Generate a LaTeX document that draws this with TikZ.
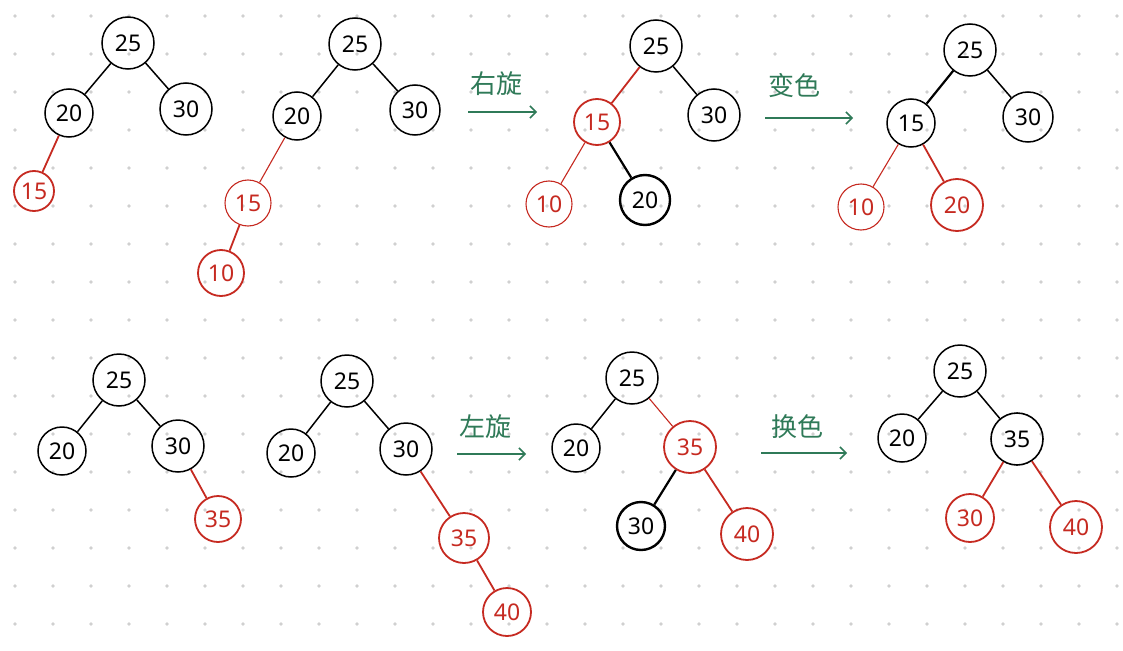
\documentclass[tikz,border=0pt]{standalone}
\usepackage{fontspec}
\setmainfont{Noto Sans}
\newfontfamily\cjk{Noto Sans CJK SC}
\usetikzlibrary{arrows.meta}
\definecolor{rbred}{HTML}{C62A21}
\definecolor{rbgreen}{HTML}{2F7A58}
\definecolor{dotgray}{HTML}{D0D0D0}
\begin{document}
\begin{tikzpicture}[x=1pt,y=-1pt,
  bn/.style={circle,draw=black,line width=1.5pt,inner sep=0pt,font=\fontsize{23}{26}\selectfont},
  rn/.style={circle,draw=rbred,text=rbred,line width=1.8pt,inner sep=0pt,font=\fontsize{23}{26}\selectfont},
  rnthin/.style={rn,line width=1.1pt},
  bnbold/.style={bn,line width=2.4pt,font=\fontsize{23}{26}\selectfont\bfseries},
  be/.style={draw=black,line width=1.5pt},
  re/.style={draw=rbred,line width=1.8pt},
  rethin/.style={draw=rbred,line width=1.1pt},
  beb/.style={draw=black,line width=2.2pt},
  garrow/.style={draw=rbgreen,line width=1.5pt,-{Straight Barb[length=6pt,width=12pt,line width=1.5pt]}},
  glabel/.style={text=rbgreen,font=\cjk\fontsize{26}{30}\selectfont}
]
\useasboundingbox (0,0) rectangle (1123,650);
\fill[white] (0,0) rectangle (1123,650);
% dot grid
\foreach \i in {0,...,29}{
  \foreach \j in {0,...,16}{
    \fill[dotgray] (15+38*\i,16+38*\j) circle (1.8);
  }
}
% ---------- Tree 1 ----------
\node[bn,minimum size=52pt] (a25) at (128,43) {25};
\node[bn,minimum size=48pt] (a20) at (69,113) {20};
\node[bn,minimum size=52pt] (a30) at (186,109) {30};
\node[rn,minimum size=40pt] (a15) at (34,191) {15};
\draw[be] (a25) -- (a20);
\draw[be] (a25) -- (a30);
\draw[re] (a20) -- (a15);
% ---------- Tree 2 ----------
\node[bn,minimum size=52pt] (b25) at (355,44) {25};
\node[bn,minimum size=48pt] (b20) at (297,116) {20};
\node[bn,minimum size=50pt] (b30) at (415,110) {30};
\node[rnthin,minimum size=46pt] (b15) at (248,203) {15};
\node[rn,minimum size=46pt] (b10) at (221,273) {10};
\draw[be] (b25) -- (b20);
\draw[be] (b25) -- (b30);
\draw[rethin] (b20) -- (b15);
\draw[re] (b15) -- (b10);
% arrow 1
\coordinate (r1s) at (468,112);
\coordinate (r1e) at (537,112);
\draw[garrow] (r1s) -- (r1e);
\node[glabel] (l1) at (496,84) {右旋};
% ---------- Tree 3 ----------
\node[bn,minimum size=52pt] (c25) at (656,46) {25};
\node[rn,minimum size=46pt] (c15) at (597,122) {15};
\node[bn,minimum size=52pt] (c30) at (714,115) {30};
\node[rnthin,minimum size=46pt] (c10) at (549,204) {10};
\node[bnbold,minimum size=50pt] (c20) at (645,200) {20};
\draw[re] (c25) -- (c15);
\draw[be] (c25) -- (c30);
\draw[rethin] (c15) -- (c10);
\draw[beb] (c15) -- (c20);
% arrow 2
\coordinate (r2s) at (765,118);
\coordinate (r2e) at (853,118);
\draw[garrow] (r2s) -- (r2e);
\node[glabel] (l2) at (794,86) {变色};
% ---------- Tree 4 ----------
\node[bn,minimum size=52pt] (d25) at (970,50) {25};
\node[bn,minimum size=48pt] (d15) at (911,123) {15};
\node[bn,minimum size=50pt] (d30) at (1028,117) {30};
\node[rnthin,minimum size=46pt] (d10) at (861,207) {10};
\node[rn,minimum size=52pt] (d20) at (957,205) {20};
\draw[beb] (d25) -- (d15);
\draw[be] (d25) -- (d30);
\draw[rethin] (d15) -- (d10);
\draw[re] (d15) -- (d20);
% ---------- Tree 5 ----------
\node[bn,minimum size=52pt] (e25) at (119,380) {25};
\node[bn,minimum size=48pt] (e20) at (62,451) {20};
\node[bn,minimum size=52pt] (e30) at (178,446) {30};
\node[rn,minimum size=46pt] (e35) at (218,519) {35};
\draw[be] (e25) -- (e20);
\draw[be] (e25) -- (e30);
\draw[re] (e30) -- (e35);
% ---------- Tree 6 ----------
\node[bn,minimum size=52pt] (f25) at (347,381) {25};
\node[bn,minimum size=48pt] (f20) at (291,453) {20};
\node[bn,minimum size=52pt] (f30) at (406,449) {30};
\node[rn,minimum size=50pt] (f35) at (464,538) {35};
\node[rn,minimum size=48pt] (f40) at (507,612) {40};
\draw[be] (f25) -- (f20);
\draw[be] (f25) -- (f30);
\draw[re] (f30) -- (f35);
\draw[re] (f35) -- (f40);
% arrow 3
\coordinate (r3s) at (457,454);
\coordinate (r3e) at (526,454);
\draw[garrow] (r3s) -- (r3e);
\node[glabel] (l3) at (485,427) {左旋};
% ---------- Tree 7 ----------
\node[bn,minimum size=52pt] (g25) at (632,378) {25};
\node[bn,minimum size=48pt] (g20) at (576,448) {20};
\node[rn,minimum size=52pt] (g35) at (690,447) {35};
\node[bnbold,minimum size=48pt] (g30) at (641,526) {30};
\node[rn,minimum size=52pt] (g40) at (747,534) {40};
\draw[be] (g25) -- (g20);
\draw[rethin] (g25) -- (g35);
\draw[beb] (g35) -- (g30);
\draw[re] (g35) -- (g40);
% arrow 4
\coordinate (r4s) at (761,453);
\coordinate (r4e) at (847,453);
\draw[garrow] (r4s) -- (r4e);
\node[glabel] (l4) at (797,427) {换色};
% ---------- Tree 8 ----------
\node[bn,minimum size=52pt] (h25) at (960,371) {25};
\node[bn,minimum size=48pt] (h20) at (902,438) {20};
\node[bnbold,line width=1.6pt,minimum size=52pt] (h35) at (1017,439) {35};
\node[rn,minimum size=48pt] (h30) at (970,518) {30};
\node[rn,minimum size=52pt] (h40) at (1076,527) {40};
\draw[be] (h25) -- (h20);
\draw[be] (h25) -- (h35);
\draw[re] (h35) -- (h30);
\draw[re] (h35) -- (h40);
\end{tikzpicture}
\end{document}
